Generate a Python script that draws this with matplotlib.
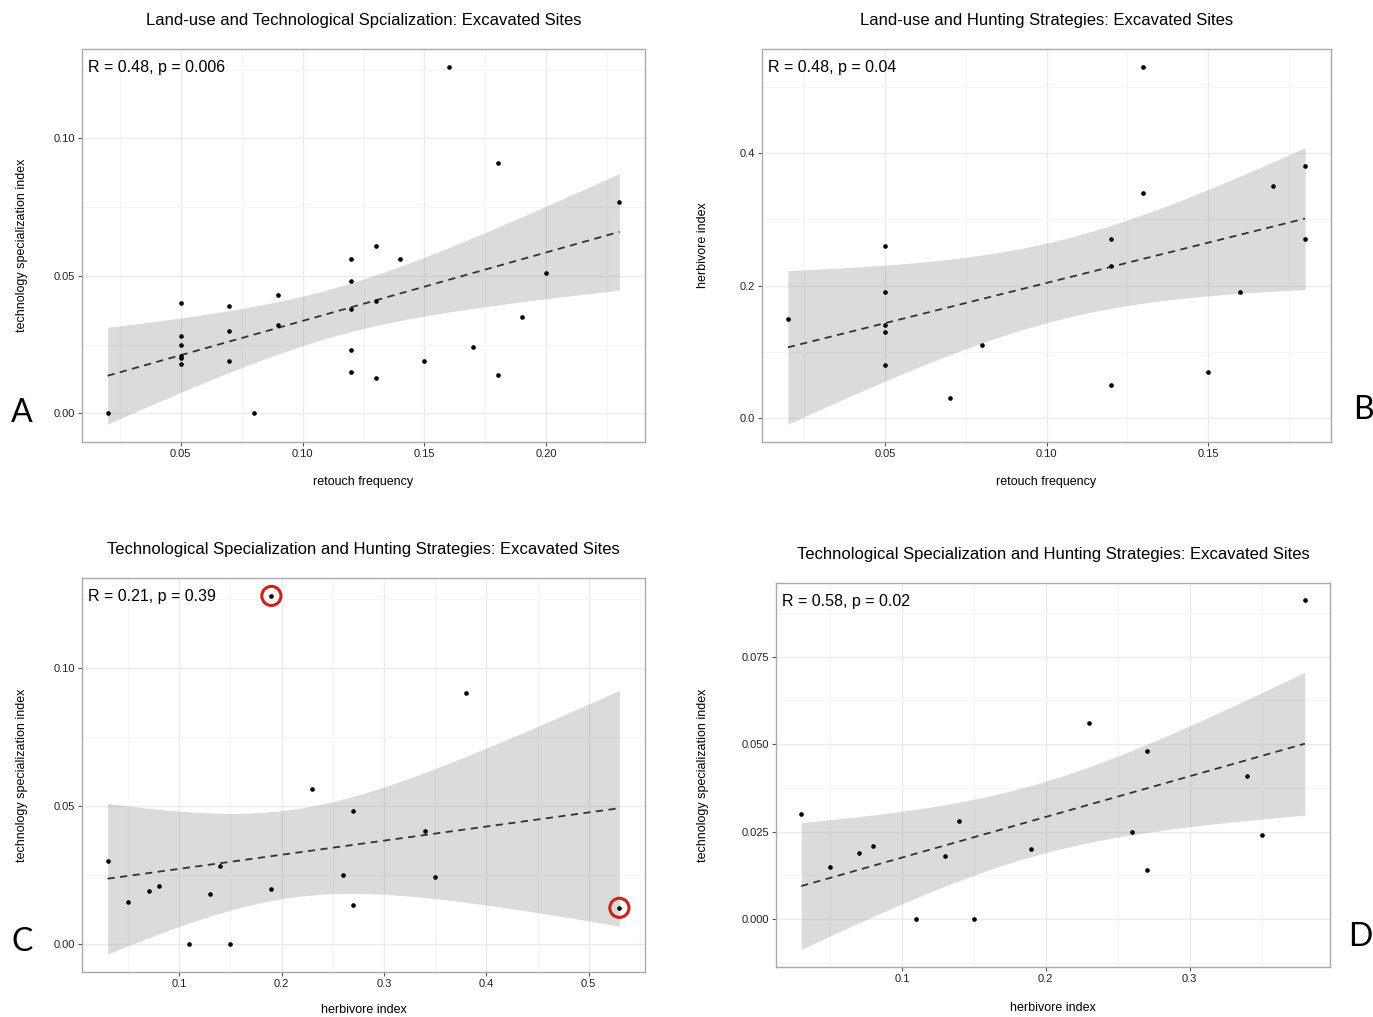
import math
import numpy as np
import matplotlib
matplotlib.use("Agg")
import matplotlib.pyplot as plt

plt.rcParams['font.family'] = ['Liberation Sans', 'DejaVu Sans']

# panel A: retouch frequency vs technology specialization
retouch_a = [0.02, 0.16, 0.18, 0.23, 0.13, 0.12, 0.14, 0.12, 0.20, 0.09,
             0.05, 0.07, 0.13, 0.12, 0.19, 0.09, 0.07, 0.05, 0.05, 0.05,
             0.05, 0.05, 0.17, 0.12, 0.07, 0.15, 0.12, 0.18, 0.13, 0.08]
techspec_a = [0.000, 0.126, 0.091, 0.077, 0.061, 0.056, 0.056, 0.048, 0.051, 0.043,
              0.040, 0.039, 0.041, 0.038, 0.035, 0.032, 0.030, 0.028, 0.025, 0.021,
              0.020, 0.018, 0.024, 0.023, 0.019, 0.019, 0.015, 0.014, 0.013, 0.000]

# panel B: retouch frequency vs herbivore index
retouch_b = [0.13, 0.18, 0.17, 0.13, 0.12, 0.18, 0.05, 0.12, 0.05,
             0.16, 0.02, 0.05, 0.05, 0.08, 0.05, 0.15, 0.12, 0.07]
herbivore_b = [0.53, 0.38, 0.35, 0.34, 0.27, 0.27, 0.26, 0.23, 0.19,
               0.19, 0.15, 0.14, 0.13, 0.11, 0.08, 0.07, 0.05, 0.03]

# panel C: herbivore index vs technology specialization (all sites)
herbivore_c = [0.19, 0.38, 0.23, 0.27, 0.34, 0.03, 0.14, 0.26, 0.35,
               0.08, 0.19, 0.07, 0.13, 0.05, 0.27, 0.53, 0.11, 0.15]
techspec_c = [0.126, 0.091, 0.056, 0.048, 0.041, 0.030, 0.028, 0.025, 0.024,
              0.021, 0.020, 0.019, 0.018, 0.015, 0.014, 0.013, 0.000, 0.000]
outliers_x = [0.19, 0.53]
outliers_y = [0.126, 0.013]

# panel D: same without the two outliers
herbivore_d = [0.38, 0.23, 0.27, 0.34, 0.03, 0.14, 0.26, 0.35,
               0.08, 0.19, 0.07, 0.13, 0.05, 0.27, 0.11, 0.15]
techspec_d = [0.091, 0.056, 0.048, 0.041, 0.030, 0.028, 0.025, 0.024,
              0.021, 0.020, 0.019, 0.018, 0.015, 0.014, 0.000, 0.000]

stats = ["R = 0.48, p = 0.006", "R = 0.48, p = 0.04", "R = 0.21, p = 0.39", "R = 0.58, p = 0.02"]
titles = ["Land-use and Technological Spcialization: Excavated Sites",
          "Land-use and Hunting Strategies: Excavated Sites",
          "Technological Specialization and Hunting Strategies: Excavated Sites",
          "Technological Specialization and Hunting Strategies: Excavated Sites"]


def t975(df):
    # 97.5% quantile of student t by bisection on a numeric cdf
    c = math.gamma((df + 1) / 2) / (math.sqrt(df * math.pi) * math.gamma(df / 2))
    def cdf(t):
        u = np.linspace(0, t, 2001)
        return 0.5 + np.trapezoid(c * (1 + u ** 2 / df) ** (-(df + 1) / 2), u)
    lo, hi = 1.0, 4.0
    for _ in range(60):
        mid = (lo + hi) / 2
        if cdf(mid) < 0.975:
            lo = mid
        else:
            hi = mid
    return (lo + hi) / 2


def panel(ax, x, y, xticks, yticks, xfmt, yfmt, stat, title, xlab, ylab, title_pad, ylab_x, xlab_y):
    x = np.array(x)
    y = np.array(y)
    n = len(x)
    b1, b0 = np.polyfit(x, y, 1)
    xg = np.linspace(x.min(), x.max(), 80)
    yh = b0 + b1 * xg
    s = np.sqrt(np.sum((y - (b0 + b1 * x)) ** 2) / (n - 2))
    se = s * np.sqrt(1 / n + (xg - x.mean()) ** 2 / np.sum((x - x.mean()) ** 2))
    lo = yh - t975(n - 2) * se
    hi = yh + t975(n - 2) * se

    ax.fill_between(xg, lo, hi, color='#999999', alpha=0.35, lw=0, zorder=2)
    ax.plot(xg, yh, ls=(0, (4, 3)), color='#333333', lw=1.3, zorder=3)
    ax.scatter(x, y, s=11, color='black', zorder=4, lw=0)

    ax.set_xticks(xticks)
    ax.set_xticklabels([xfmt % v for v in xticks])
    ax.set_yticks(yticks)
    ax.set_yticklabels([yfmt % v for v in yticks])
    dx = xticks[1] - xticks[0]
    dy = yticks[1] - yticks[0]
    ymin = min(y.min(), lo.min())
    ymax = max(y.max(), hi.max())
    ax.set_xticks(np.arange(xticks[0] - dx / 2, x.max() + dx, dx), minor=True)
    ax.set_yticks(np.arange(yticks[0] - dy / 2, ymax + dy, dy), minor=True)

    # ggplot style 5% expansion, set after the ticks
    xr = x.max() - x.min()
    ax.set_xlim(x.min() - 0.05 * xr, x.max() + 0.05 * xr)
    yr = ymax - ymin
    ax.set_ylim(ymin - 0.05 * yr, ymax + 0.05 * yr)

    ax.grid(True, which='major', color='#EBEBEB', lw=1.0, zorder=0)
    ax.grid(True, which='minor', color='#F5F5F5', lw=0.8, zorder=0)
    ax.set_axisbelow(True)
    ax.tick_params(which='major', length=3, width=0.8, color='#555555', labelsize=8,
                   labelcolor='#222222', pad=2)
    ax.tick_params(which='minor', length=0)
    for sp in ax.spines.values():
        sp.set_color('#AAAAAA')
        sp.set_linewidth(1.0)

    ax.text(0.011, 0.952, stat, transform=ax.transAxes, fontsize=11.5, ha='left', va='center')
    ax.set_title(title, fontsize=12, pad=title_pad)
    ax.set_xlabel(xlab, fontsize=9)
    ax.set_ylabel(ylab, fontsize=9)
    ax.xaxis.label.set_va('center')
    ax.yaxis.label.set_va('center')
    ax.xaxis.set_label_coords(0.5, xlab_y)
    ax.yaxis.set_label_coords(ylab_x, 0.5)


W, H = 1373, 1017
fig = plt.figure(figsize=(W / 100, H / 100), dpi=100)

def box(l, t, r, b):
    return [l / W, 1 - b / H, (r - l) / W, (b - t) / H]

axA = fig.add_axes(box(82, 49, 645, 442))
axB = fig.add_axes(box(762, 49, 1331, 442))
axC = fig.add_axes(box(82, 578, 645, 972))
axD = fig.add_axes(box(776, 583, 1330, 967))

panel(axA, retouch_a, techspec_a, [0.05, 0.10, 0.15, 0.20], [0.0, 0.05, 0.10], '%.2f', '%.2f',
      stats[0], titles[0], "retouch frequency", "technology specialization index", 17, -0.107, -0.102)
panel(axB, retouch_b, herbivore_b, [0.05, 0.10, 0.15], [0.0, 0.2, 0.4], '%.2f', '%.1f',
      stats[1], titles[1], "retouch frequency", "herbivore index", 17, -0.104, -0.102)
panel(axC, herbivore_c, techspec_c, [0.1, 0.2, 0.3, 0.4, 0.5], [0.0, 0.05, 0.10], '%.1f', '%.2f',
      stats[2], titles[2], "herbivore index", "technology specialization index", 17, -0.107, -0.096)
panel(axD, herbivore_d, techspec_d, [0.1, 0.2, 0.3], [0.0, 0.025, 0.050, 0.075], '%.1f', '%.3f',
      stats[3], titles[3], "herbivore index", "technology specialization index", 17.5, -0.132, -0.107)

# red rings round the two outliers
axC.scatter(outliers_x, outliers_y, s=190, facecolors='none', edgecolors='#D0201A', linewidths=2.2, zorder=5)

letters = ['A', 'B', 'C', 'D']
letter_pos = [(22, 413), (1363, 410), (22, 942), (1360, 937)]
for lab, (px, py) in zip(letters, letter_pos):
    fig.text(px / W, 1 - py / H, lab, fontsize=23, family='Lato', ha='center', va='center')

fig.savefig('out.png', dpi=100)
